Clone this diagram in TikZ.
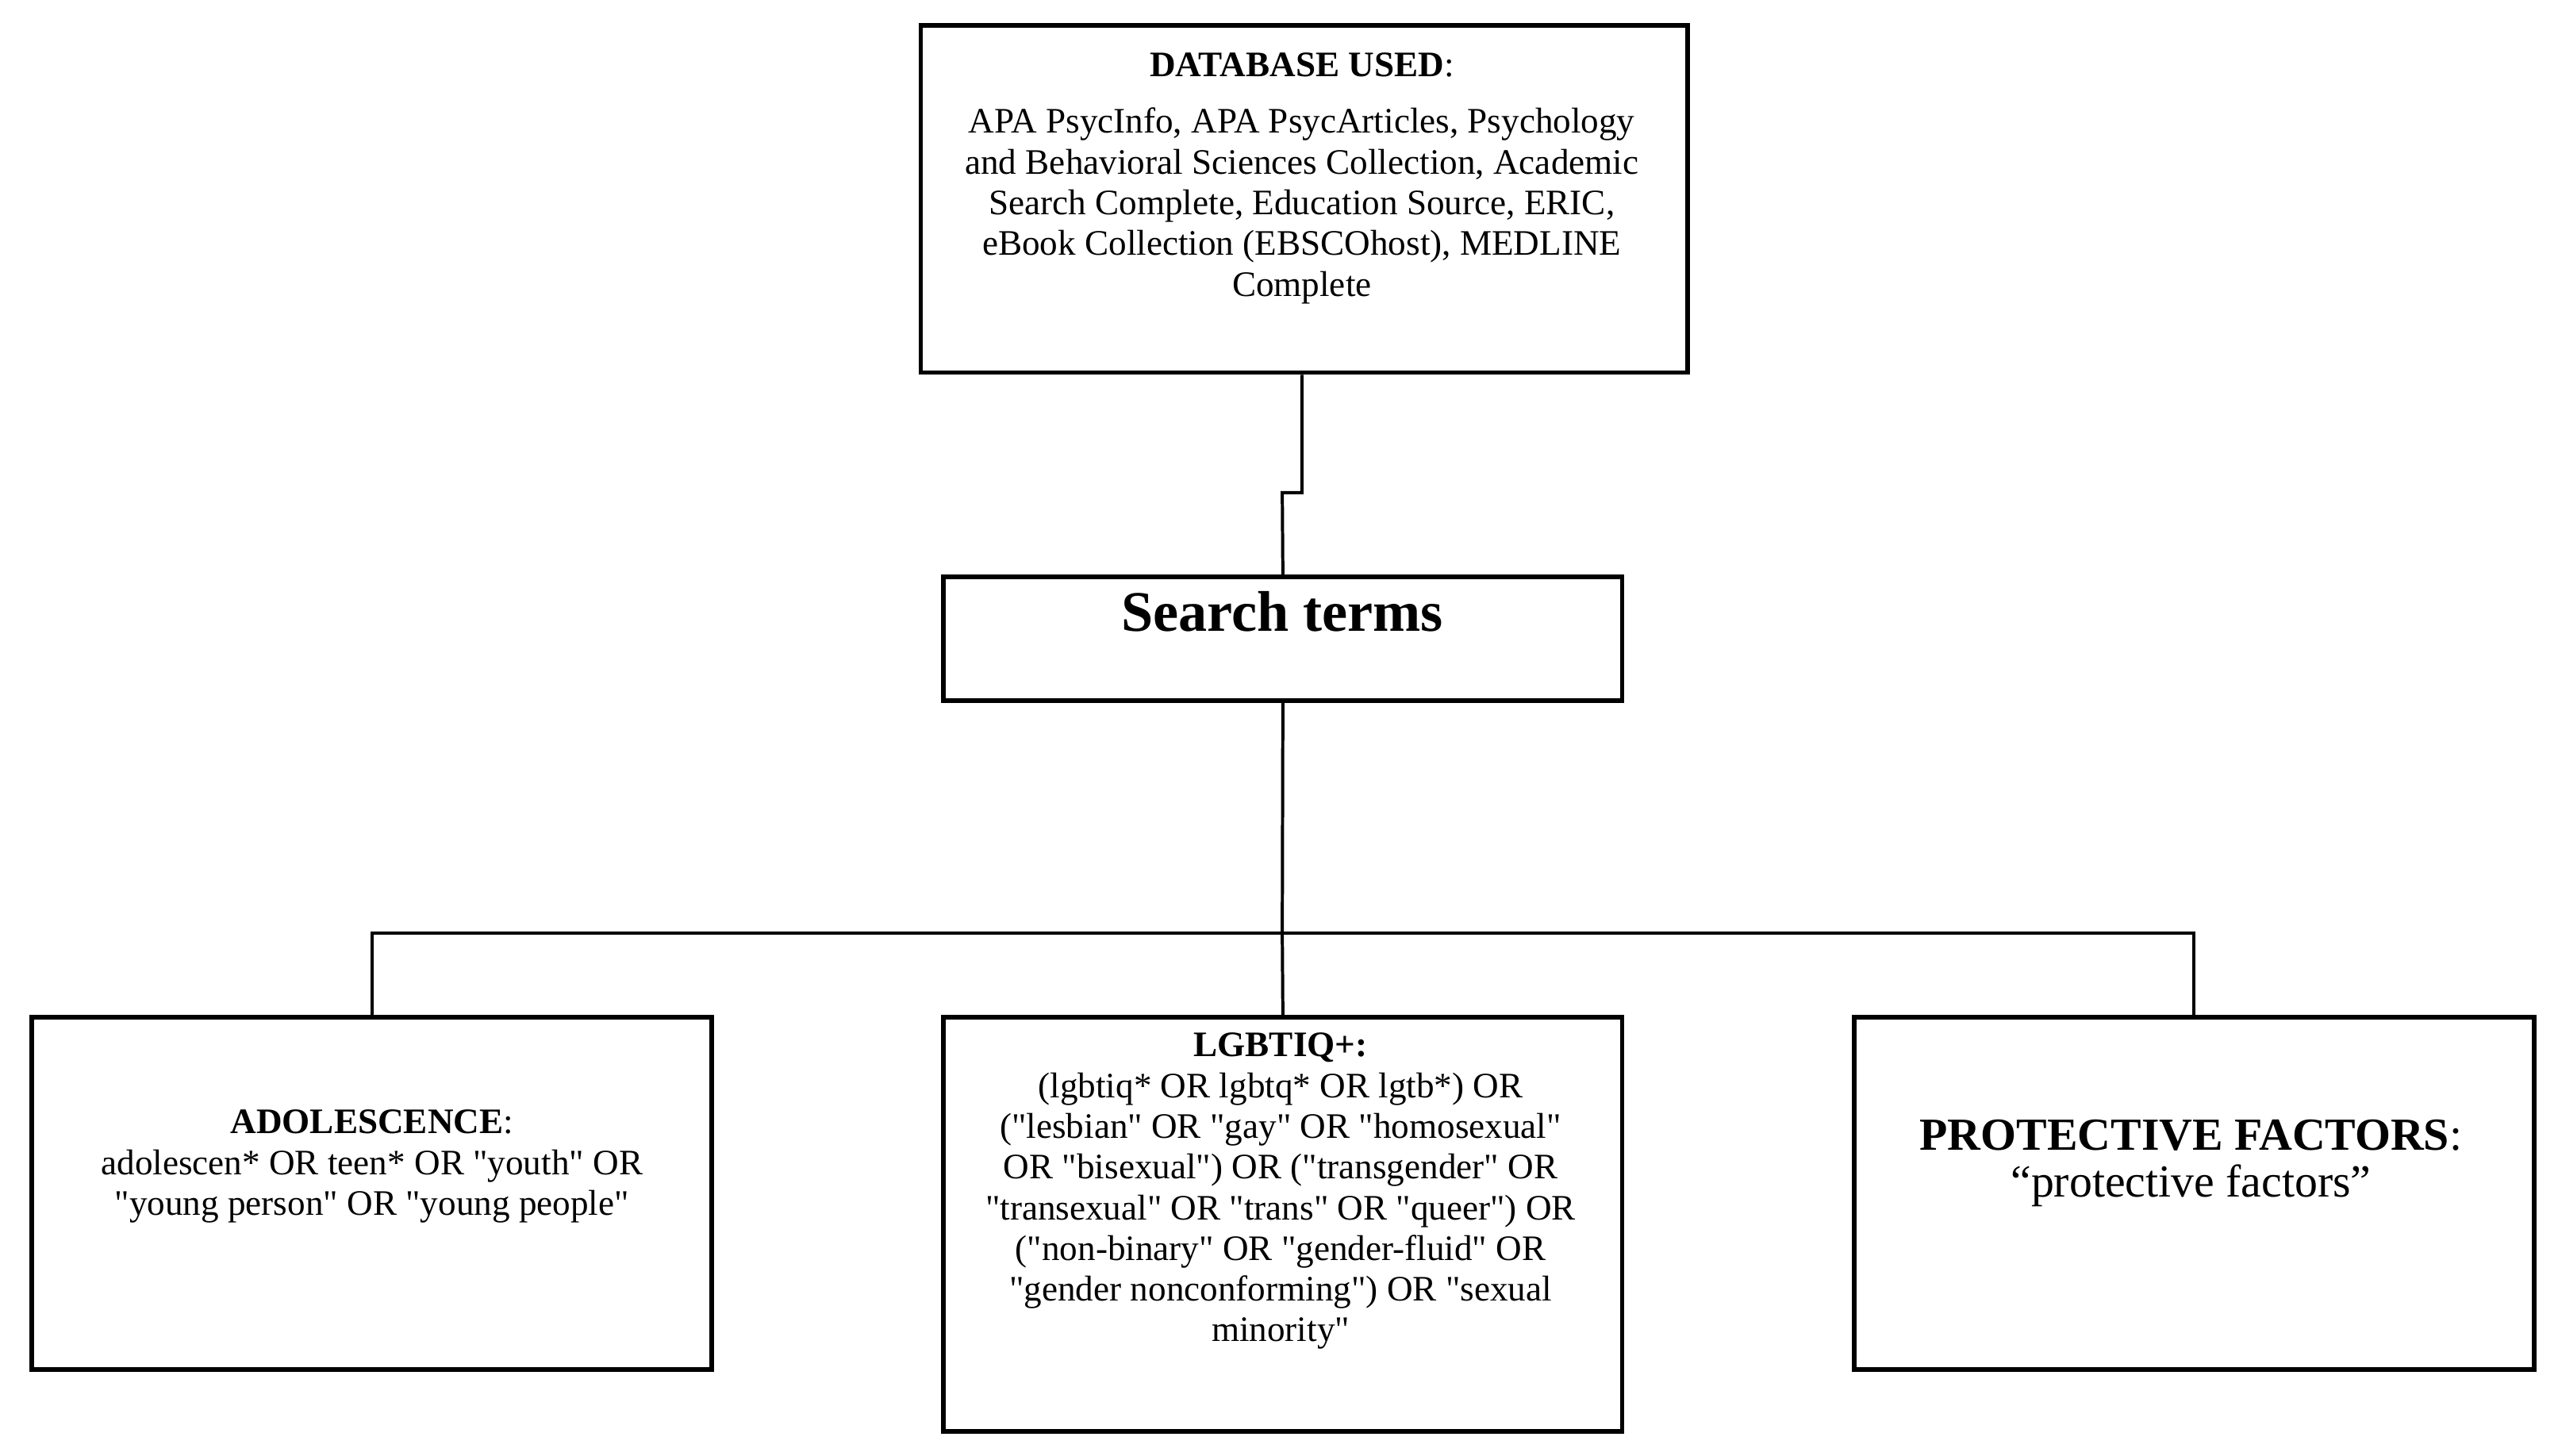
\documentclass[tikz,border=0pt]{standalone}
\usepackage{fontspec}
\setmainfont{Liberation Serif}
\usetikzlibrary{positioning, calc}
\newcommand{\qq}[1]{\textquotedbl#1\textquotedbl}

\begin{document}
\begin{tikzpicture}[x=0.02cm, y=-0.02cm,
  box/.style={draw, line width=1.6pt, inner sep=0pt},
  txt/.style={font=\fontsize{12.5}{14.2}\selectfont, align=center},
  link/.style={line width=1.1pt},
]
\useasboundingbox (0,0) rectangle (1568,892);

\node[box, minimum width=9.4cm, minimum height=4.26cm, anchor=north west] (db) at (563,14) {};
\node[txt, anchor=north] (dbtext) at (798,26)
  {\textbf{DATABASE USED}:\\[0.2cm]APA PsycInfo, APA PsycArticles, Psychology\\and Behavioral Sciences Collection, Academic\\Search Complete, Education Source, ERIC,\\eBook Collection (EBSCOhost), MEDLINE\\Complete};

\node[box, minimum width=8.32cm, minimum height=1.52cm, anchor=north west] (search) at (577,352) {};
\node[font=\fontsize{20}{22}\selectfont\bfseries] (searchtext) at (786,375) {Search terms};

\node[box, minimum width=8.34cm, minimum height=4.32cm, anchor=north west] (adol) at (18,622) {};
\node[txt] (adoltext) at (228,715)
  {\textbf{ADOLESCENCE}:\\adolescen* OR teen* OR \qq{youth} OR\\\qq{young person} OR \qq{young people}};

\node[box, minimum width=8.32cm, minimum height=5.08cm, anchor=north west] (lgbt) at (577,622) {};
\node[txt, anchor=north] (lgbttext) at (785,627)
  {\textbf{LGBTIQ+:}\\(lgbtiq* OR lgbtq* OR lgtb*) OR\\(\qq{lesbian} OR \qq{gay} OR \qq{homosexual}\\OR \qq{bisexual}) OR (\qq{transgender} OR\\\qq{transexual} OR \qq{trans} OR \qq{queer}) OR\\(\qq{non-binary} OR \qq{gender-fluid} OR\\\qq{gender nonconforming}) OR \qq{sexual\\minority}};

\node[box, minimum width=8.34cm, minimum height=4.32cm, anchor=north west] (prot) at (1135,622) {};
\node[font=\fontsize{16}{16.5}\selectfont, align=center] (prottext) at (1343,713)
  {\textbf{PROTECTIVE FACTORS}:\\“protective factors”};

% connectors
\coordinate (jog) at (798,302);
\coordinate (split) at (786,572);
\draw[link] (db.south -| jog) -- (jog) -- ++(-12,0) -- (search.north);
\draw[link] (search.south) -- (split);
\draw[link] (adol.north) |- (split) -| (prot.north);
\draw[link] (split) -- (lgbt.north);

\end{tikzpicture}
\end{document}
